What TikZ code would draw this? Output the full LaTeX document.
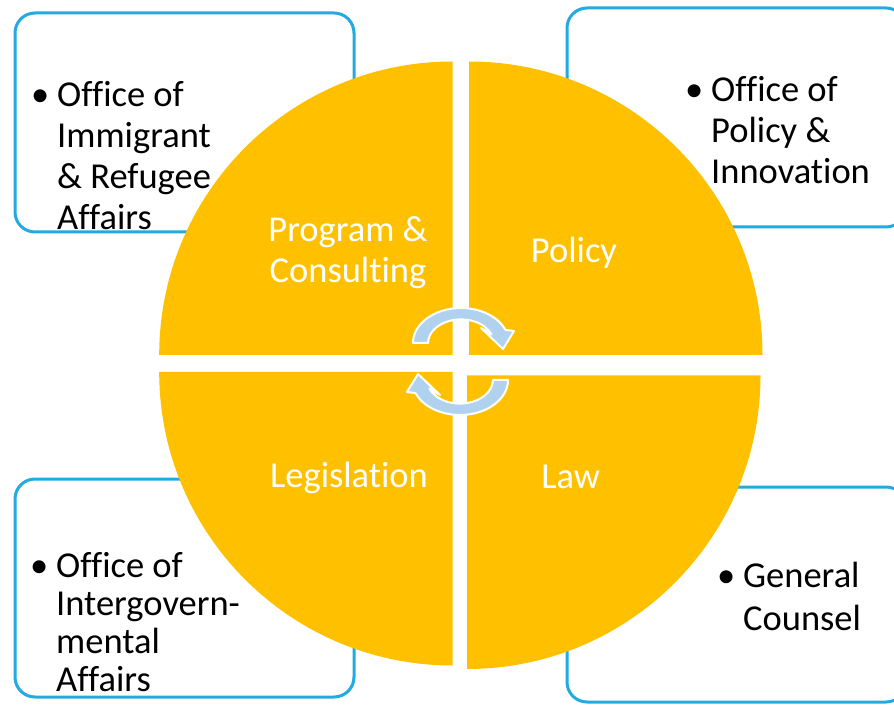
\documentclass[tikz,border=0pt]{standalone}
\usepackage{fontspec}
\setmainfont{Carlito}[Ligatures={NoCommon}]
\definecolor{gold}{RGB}{255,192,0}
\definecolor{boxblue}{RGB}{35,170,225}
\definecolor{arrowblue}{RGB}{176,210,238}
\newcommand{\boxlines}[2]{\vtop{\baselineskip=#1pt\lineskiplimit=-100pt #2}}
\newcommand{\bl}[1]{\hbox{\llap{\textbullet\hspace{8pt}}#1}}
\newcommand{\cl}[1]{\hbox to 0pt{\hss #1\hss}}
\begin{document}
\begin{tikzpicture}[x=1pt,y=1pt,
  officebox/.style={draw=boxblue, line width=3pt, fill=white, rounded corners=20pt},
  quarter/.style={fill=gold},
  cyclearrow/.style={fill=arrowblue, draw=white, line width=2pt, line join=round},
  officetext/.style={anchor=base west, inner sep=0pt, text=black, font=\fontsize{36.5}{41}\selectfont},
  segtext/.style={anchor=base, inner sep=0pt, text=white, font=\fontsize{36.5}{41}\selectfont}]
\useasboundingbox (0,0) rectangle (894,705);
\clip (0,0) rectangle (894,705);
% office boxes
\draw[officebox] (15,692) rectangle (354,473);
\draw[officebox] (567,697) rectangle (906,478);
\draw[officebox] (15,226) rectangle (354,8);
\draw[officebox] (567,218) rectangle (906,3);
% quadrants
\fill[quarter] (452.7,350) -- ++(-293.5,0) arc[start angle=180, end angle=90, radius=293.5pt] -- cycle;
\fill[quarter] (469,350) -- ++(293.5,0) arc[start angle=0, end angle=90, radius=293.5pt] -- cycle;
\fill[quarter] (452.7,333) -- ++(-293.5,0) arc[start angle=180, end angle=270, radius=293.5pt] -- cycle;
\fill[quarter] (467,329.5) -- ++(293.5,0) arc[start angle=0, end angle=-90, radius=293.5pt] -- cycle;
% cycle arrows
\path[cyclearrow] (428,362) -- (413,362) arc[start angle=180, end angle=22, x radius=48pt, y radius=35pt] -- (514,374) -- (503,356) -- (481,377) -- (491.6,370.6) arc[start angle=22, end angle=180, x radius=33pt, y radius=24pt] -- cycle;
\path[cyclearrow, rotate around={180:(460.5,343.5)}] (428,362) -- (413,362) arc[start angle=180, end angle=22, x radius=48pt, y radius=35pt] -- (514,374) -- (503,356) -- (481,377) -- (491.6,370.6) arc[start angle=22, end angle=180, x radius=33pt, y radius=24pt] -- cycle;
% segment labels
\node[segtext] (prog) at (348,463) {\boxlines{41}{\cl{Program \&}\cl{Consulting}}};
\node[segtext] (pol) at (574,442.5) {Policy};
\node[segtext] (leg) at (349,218) {Legislation};
\node[segtext] (law) at (570.6,217) {Law};
% office texts
\node[officetext] (oira) at (57,598) {\boxlines{41}{\bl{Office of}\hbox{Immigrant}\hbox{\& Refugee}\hbox{Affairs}}};
\node[officetext] (opi) at (711,603) {\boxlines{41}{\bl{Office of}\hbox{Policy \&}\hbox{Innovation}}};
\node[officetext] (oia) at (56,128) {\boxlines{38.3}{\bl{Office of}\hbox{Intergovern-}\hbox{mental}\hbox{Affairs}}};
\node[officetext] (gc) at (743,118) {\boxlines{43}{\bl{General}\hbox{Counsel}}};
\end{tikzpicture}
\end{document}
